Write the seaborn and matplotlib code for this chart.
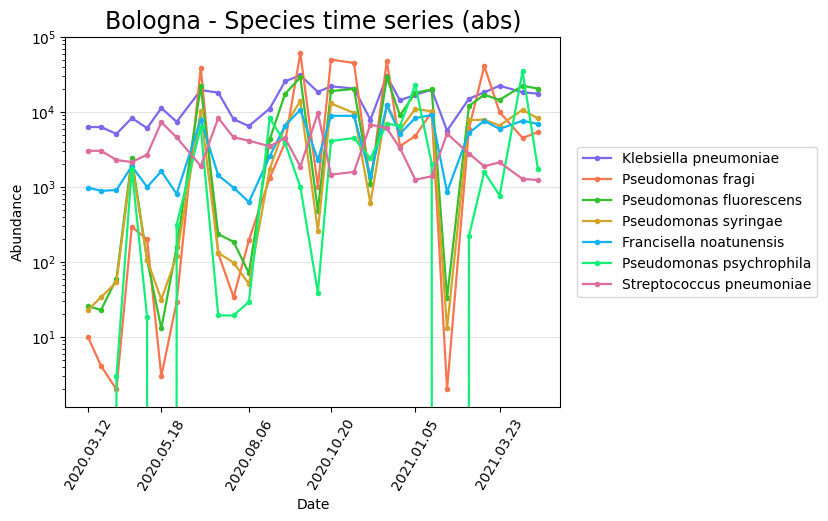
import numpy as np
import pandas as pd
import seaborn as sns
import matplotlib.pyplot as plt
import matplotlib.dates as mdates

dates = pd.to_datetime([
    "2020-03-12", "2020-03-24", "2020-04-07", "2020-04-21", "2020-05-05", "2020-05-18",
    "2020-06-01", "2020-06-23", "2020-07-09", "2020-07-23", "2020-08-06", "2020-08-25",
    "2020-09-08", "2020-09-22", "2020-10-08", "2020-10-20", "2020-11-10", "2020-11-25",
    "2020-12-10", "2020-12-22", "2021-01-05", "2021-01-20", "2021-02-03", "2021-02-23",
    "2021-03-09", "2021-03-23", "2021-04-13", "2021-04-27"])

klebsiella = [6300, 6300, 5100, 8300, 6100, 11300, 7400, 19600, 18100, 8000, 6500, 11100,
              25600, 30800, 18500, 22000, 20500, 7900, 29900, 14300, 17000, 19800, 5640,
              15000, 18300, 22400, 18300, 17600]
fragi = [10, 4.1, 2.0, 295, 200, 3.0, 29.5, 39000, 130, 34, 195, 1320,
         3900, 61000, 1000, 50000, 45000, 1100, 48000, 3500, 4800, 10000, 2.0,
         6000, 41000, 10000, 4500, 5400]
fluorescens = [25.7, 23, 60, 2450, 107, 13, 158, 22000, 235, 186, 71, 4300,
               17400, 29000, 480, 19000, 20300, 1100, 29000, 9000, 18000, 20000, 33,
               12000, 17000, 14500, 22400, 20500]
syringae = [23, 34, 54, 2100, 107, 31.6, 120, 10300, 132, 98, 51, 1740,
            6500, 14100, 257, 13000, 9700, 610, 12500, 5800, 11000, 10200, 13,
            7800, 7900, 6600, 10700, 8200]
francisella = [980, 890, 910, 1900, 1000, 1620, 810, 7900, 1430, 980, 630, 2560,
               6600, 10700, 2300, 8900, 8900, 1390, 12300, 5140, 8300, 9100, 860,
               5250, 7650, 5940, 7650, 6920]
psychrophila = [0, 0, 3.0, 1750, 18.5, 0, 316, 6300, 19.4, 19.4, 29.5, 8300,
                3870, 1000, 39, 4100, 4500, 2400, 7000, 6500, 23000, 2050, 0,
                222, 1590, 770, 35000, 1740]
streptococcus = [3040, 3040, 2290, 2150, 2700, 7300, 4590, 1900, 8300, 4590, 4150, 3480,
                 4500, 1870, 9700, 1460, 1590, 6800, 6060, 3300, 1250, 1390, 5140,
                 2790, 1890, 2130, 1280, 1240]

species = {
    "Klebsiella pneumoniae": klebsiella,
    "Pseudomonas fragi": fragi,
    "Pseudomonas fluorescens": fluorescens,
    "Pseudomonas syringae": syringae,
    "Francisella noatunensis": francisella,
    "Pseudomonas psychrophila": psychrophila,
    "Streptococcus pneumoniae": streptococcus,
}
colors = ["#7b68ee", "#f7754f", "#33c02c", "#d4a42a", "#10b4f0", "#13ef78", "#dc6d9c"]
tick_dates = pd.to_datetime(["2020-03-12", "2020-05-18", "2020-08-06",
                             "2020-10-20", "2021-01-05", "2021-03-23"])

df = pd.concat([pd.DataFrame({"Date": dates, "Abundance": v, "Species": k})
                for k, v in species.items()], ignore_index=True)

fig, ax = plt.subplots(figsize=(8.29, 5.21), dpi=100)
sns.lineplot(data=df, x="Date", y="Abundance", hue="Species", palette=colors,
             marker="o", markersize=4, markeredgewidth=0, linewidth=1.6, ax=ax)
ax.set_yscale("log")
ax.set_ylim(1.17, 1e5)
ax.grid(axis="y", color="#e5e5e5", linewidth=0.8)
ax.set_axisbelow(True)
ax.set_xticks(tick_dates)
ax.xaxis.set_major_formatter(mdates.DateFormatter("%Y.%m.%d"))
plt.setp(ax.get_xticklabels(), rotation=60)
ax.set_title("Bologna - Species time series (abs)", fontsize=17)
ax.legend(loc="center left", bbox_to_anchor=(1.02, 0.5))
fig.subplots_adjust(left=0.079, right=0.676, top=0.929, bottom=0.219)
fig.savefig("out.png")
